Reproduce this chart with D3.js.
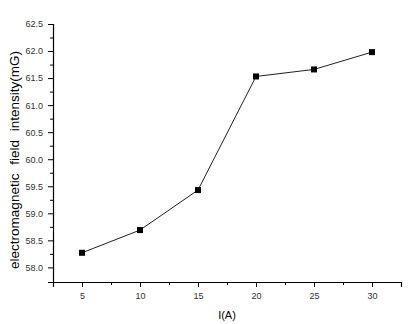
<!DOCTYPE html>
<html>
<head>
<meta charset="utf-8">
<script src="https://cdn.jsdelivr.net/npm/d3@7"></script>
<style>
  body { margin: 0; background: #fff; }
  text { font-family: "Liberation Sans", Arial, sans-serif; }
</style>
</head>
<body>
<div id="chart"></div>
<script>
// current (A) vs field intensity (mG)
const current = [5, 10, 15, 20, 25, 30];
const intensity = [58.27, 58.69, 59.43, 61.53, 61.66, 61.98];
const xTicks = [5, 10, 15, 20, 25, 30];
const yTicks = [58.0, 58.5, 59.0, 59.5, 60.0, 60.5, 61.0, 61.5, 62.0, 62.5];

const W = 408, H = 324;
const margin = { top: 24, right: 7, bottom: 42, left: 53 };
const width = W - margin.left - margin.right,
    height = H - margin.top - margin.bottom;

const svg = d3.select("#chart").append("svg")
    .attr("width", W)
    .attr("height", H)
    .append("g")
    .attr("transform", "translate(" + margin.left + "," + margin.top + ")");

const x = d3.scaleLinear().domain([2.5, 32.5]).range([0, width]);
const y = d3.scaleLinear().domain([57.73, 62.5]).range([height, 0]);

// minor ticks
svg.append("g")
    .attr("transform", "translate(0," + height + ")")
    .call(d3.axisBottom(x).tickValues(d3.range(7.5, 32.5, 5)).tickSize(3).tickFormat(""))
    .call(g => g.select(".domain").remove());
svg.append("g")
    .call(d3.axisLeft(y).tickValues(d3.range(58.25, 62.5, 0.5)).tickSize(3).tickFormat(""))
    .call(g => g.select(".domain").remove());

// x axis
svg.append("g")
    .attr("transform", "translate(0," + height + ")")
    .call(d3.axisBottom(x).tickValues(xTicks).tickSize(5).tickPadding(6).tickFormat(d3.format("d")))
    .call(g => g.selectAll("text").attr("font-size", 9).attr("fill", "#333"))
    .call(g => g.select(".domain").attr("stroke-width", 1.2));

// y axis
svg.append("g")
    .call(d3.axisLeft(y).tickValues(yTicks).tickSize(5).tickPadding(5).tickFormat(d3.format(".1f")))
    .call(g => g.selectAll("text").attr("font-size", 9).attr("fill", "#333"))
    .call(g => g.select(".domain").attr("stroke-width", 1.2));

// line
const pts = current.map((c, i) => [c, intensity[i]]);
svg.append("path")
    .datum(pts)
    .attr("fill", "none")
    .attr("stroke", "#222")
    .attr("stroke-width", 1)
    .attr("d", d3.line().x(d => x(d[0])).y(d => y(d[1])));

// markers
svg.selectAll(".dot")
    .data(pts)
    .enter().append("rect")
    .attr("class", "dot")
    .attr("x", d => x(d[0]) - 3)
    .attr("y", d => y(d[1]) - 3)
    .attr("width", 6)
    .attr("height", 6)
    .attr("fill", "#000");

// axis titles
svg.append("text")
    .attr("x", width / 2 + 0)
    .attr("y", height + 37)
    .attr("text-anchor", "middle")
    .style("font-size", "11px")
    .text("I(A)");

svg.append("text")
    .attr("transform", "rotate(-90)")
    .attr("x", -height / 2 - 7)
    .attr("y", -34)
    .attr("text-anchor", "middle")
    .style("font-size", "13.5px")
    .style("word-spacing", "5px")
    .text("electromagnetic field intensity(mG)");
</script>
</body>
</html>
